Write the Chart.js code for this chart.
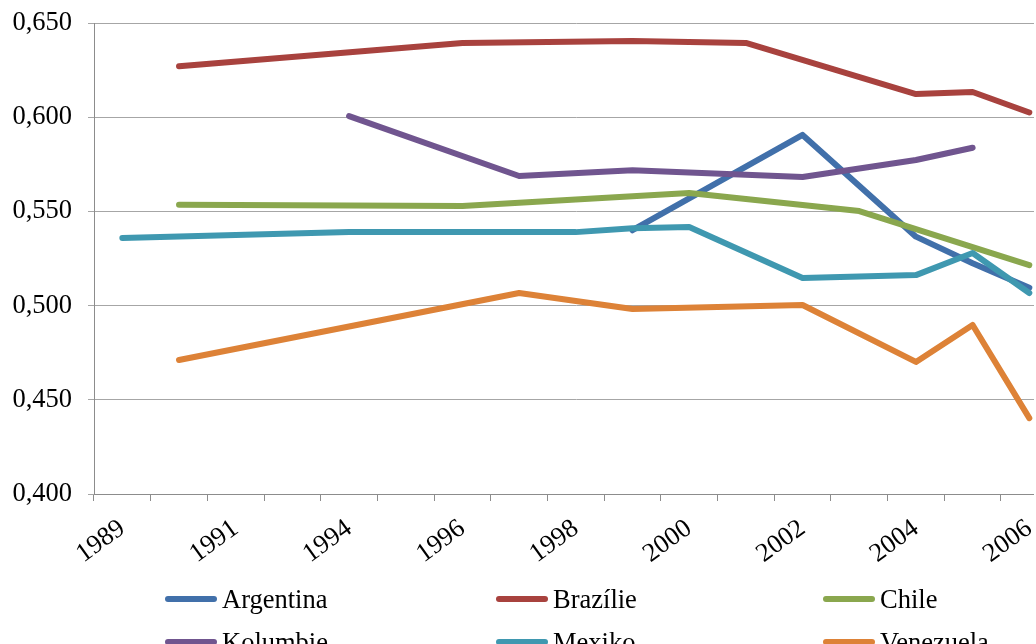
<!DOCTYPE html>
<html>
<head>
<meta charset="utf-8">
<script src="https://cdn.jsdelivr.net/npm/chart.js@4.4.1/dist/chart.umd.min.js"></script>
<style>
  html, body { margin: 0; padding: 0; background: #fff; }
  #page { position: relative; width: 1036px; height: 644px; overflow: hidden; background: #fff; }
  #clip { position: absolute; left: 0; top: 0; width: 1034px; height: 644px; overflow: hidden; }
  #box { position: absolute; left: 0; top: 0; width: 1060px; height: 644px; }
  .lg { position: absolute; height: 30px; display: flex; align-items: center; font-family: "Liberation Serif", "Times New Roman", serif; font-size: 26.5px; color: #000; white-space: nowrap; }
  .lg .sw { display: inline-block; width: 52px; height: 6px; border-radius: 3px; margin-right: 5px; }
</style>
</head>
<body>
<div id="page">
  <div id="clip"><div id="box"><canvas id="chart"></canvas></div></div>
  <div id="legend"></div>
</div>
<script>
// Categories (survey years)
const years = ['1989','1990','1991','1992','1994','1995','1996','1997','1998','1999','2000','2001','2002','2003','2004','2005','2006'];

const argentina = [null, null, null, null, null, null, null, null, null, 0.540, null, null, 0.5906, null, 0.5366, 0.5225, 0.5095];
const brazilie  = [null, 0.627, null, null, null, null, 0.6394, null, null, 0.6404, null, 0.6394, null, null, 0.6123, 0.6134, 0.6025];
const chile     = [null, 0.5535, null, null, null, null, 0.5529, null, null, null, 0.5598, null, null, 0.5502, null, null, 0.5215];
const kolumbie  = [null, null, null, null, 0.6006, null, null, 0.5688, null, 0.5718, null, null, 0.5683, null, 0.5773, 0.5838, null];
const mexiko    = [0.5359, null, null, null, 0.539, null, null, null, 0.539, 0.541, 0.5417, null, 0.5146, null, 0.5162, 0.5279, 0.5067];
const venezuela = [null, 0.4711, null, null, null, null, null, 0.5067, null, 0.4982, null, null, 0.5003, null, 0.4701, 0.4897, 0.4403];

const seriesNames = ['Argentina', 'Brazílie', 'Chile', 'Kolumbie', 'Mexiko', 'Venezuela'];
const seriesData  = [argentina, brazilie, chile, kolumbie, mexiko, venezuela];
const seriesColors = ['#4170AA', '#A8423E', '#8AA74E', '#70558F', '#3F98B0', '#DD8237'];

// Axis
const yMin = 0.4, yMax = 0.65, yStep = 0.05;

const FONT = '"Liberation Serif", "Times New Roman", serif';

const datasets = seriesData.map((d, i) => ({
  label: seriesNames[i],
  data: d,
  borderColor: seriesColors[i],
  backgroundColor: seriesColors[i],
  borderWidth: 6,
  borderCapStyle: 'round',
  borderJoinStyle: 'round',
  pointRadius: 0,
  pointHoverRadius: 0,
  tension: 0,
  spanGaps: true,
  fill: false,
  order: seriesData.length - i
}));

new Chart(document.getElementById('chart'), {
  type: 'line',
  data: { labels: years, datasets },
  options: {
    responsive: true,
    maintainAspectRatio: false,
    animation: false,
    layout: { padding: { top: 23, left: 0, right: 0, bottom: 0 } },
    plugins: { legend: { display: false }, tooltip: { enabled: false } },
    scales: {
      x: {
        type: 'category',
        offset: true,
        grid: { display: true, drawOnChartArea: false, drawTicks: true, tickLength: 7, offset: true, color: '#8C8C8C' },
        border: { display: true, color: '#8C8C8C' },
        ticks: {
          autoSkip: false,
          minRotation: 36,
          maxRotation: 36,
          padding: 12,
          color: '#000',
          font: { family: FONT, size: 26.5 },
          callback: (v, i) => (i % 2 === 0 ? years[i] : '')
        },
        afterFit: (s) => { s.height = 150; }
      },
      y: {
        min: yMin,
        max: yMax,
        grid: { color: '#A6A6A6', lineWidth: 1, drawTicks: true, tickLength: 6 },
        border: { display: true, color: '#8C8C8C' },
        ticks: {
          stepSize: yStep,
          padding: 16,
          color: '#000',
          font: { family: FONT, size: 26.5 },
          callback: (v) => Number(v).toFixed(3).replace('.', ',')
        },
        afterFit: (s) => { s.width = 94; s.paddingTop = 0; s.paddingBottom = 0; }
      }
    }
  }
});

// Legend (3 columns x 2 rows, as in the original)
const legendCols = [165, 496, 823];
const legendRows = [599, 642];
const lg = document.getElementById('legend');
seriesNames.forEach((name, i) => {
  const el = document.createElement('div');
  el.className = 'lg';
  el.style.left = legendCols[i % 3] + 'px';
  el.style.top = (legendRows[Math.floor(i / 3)] - 15) + 'px';
  const sw = document.createElement('span');
  sw.className = 'sw';
  sw.style.background = seriesColors[i];
  el.appendChild(sw);
  el.appendChild(document.createTextNode(name));
  lg.appendChild(el);
});
</script>
</body>
</html>
